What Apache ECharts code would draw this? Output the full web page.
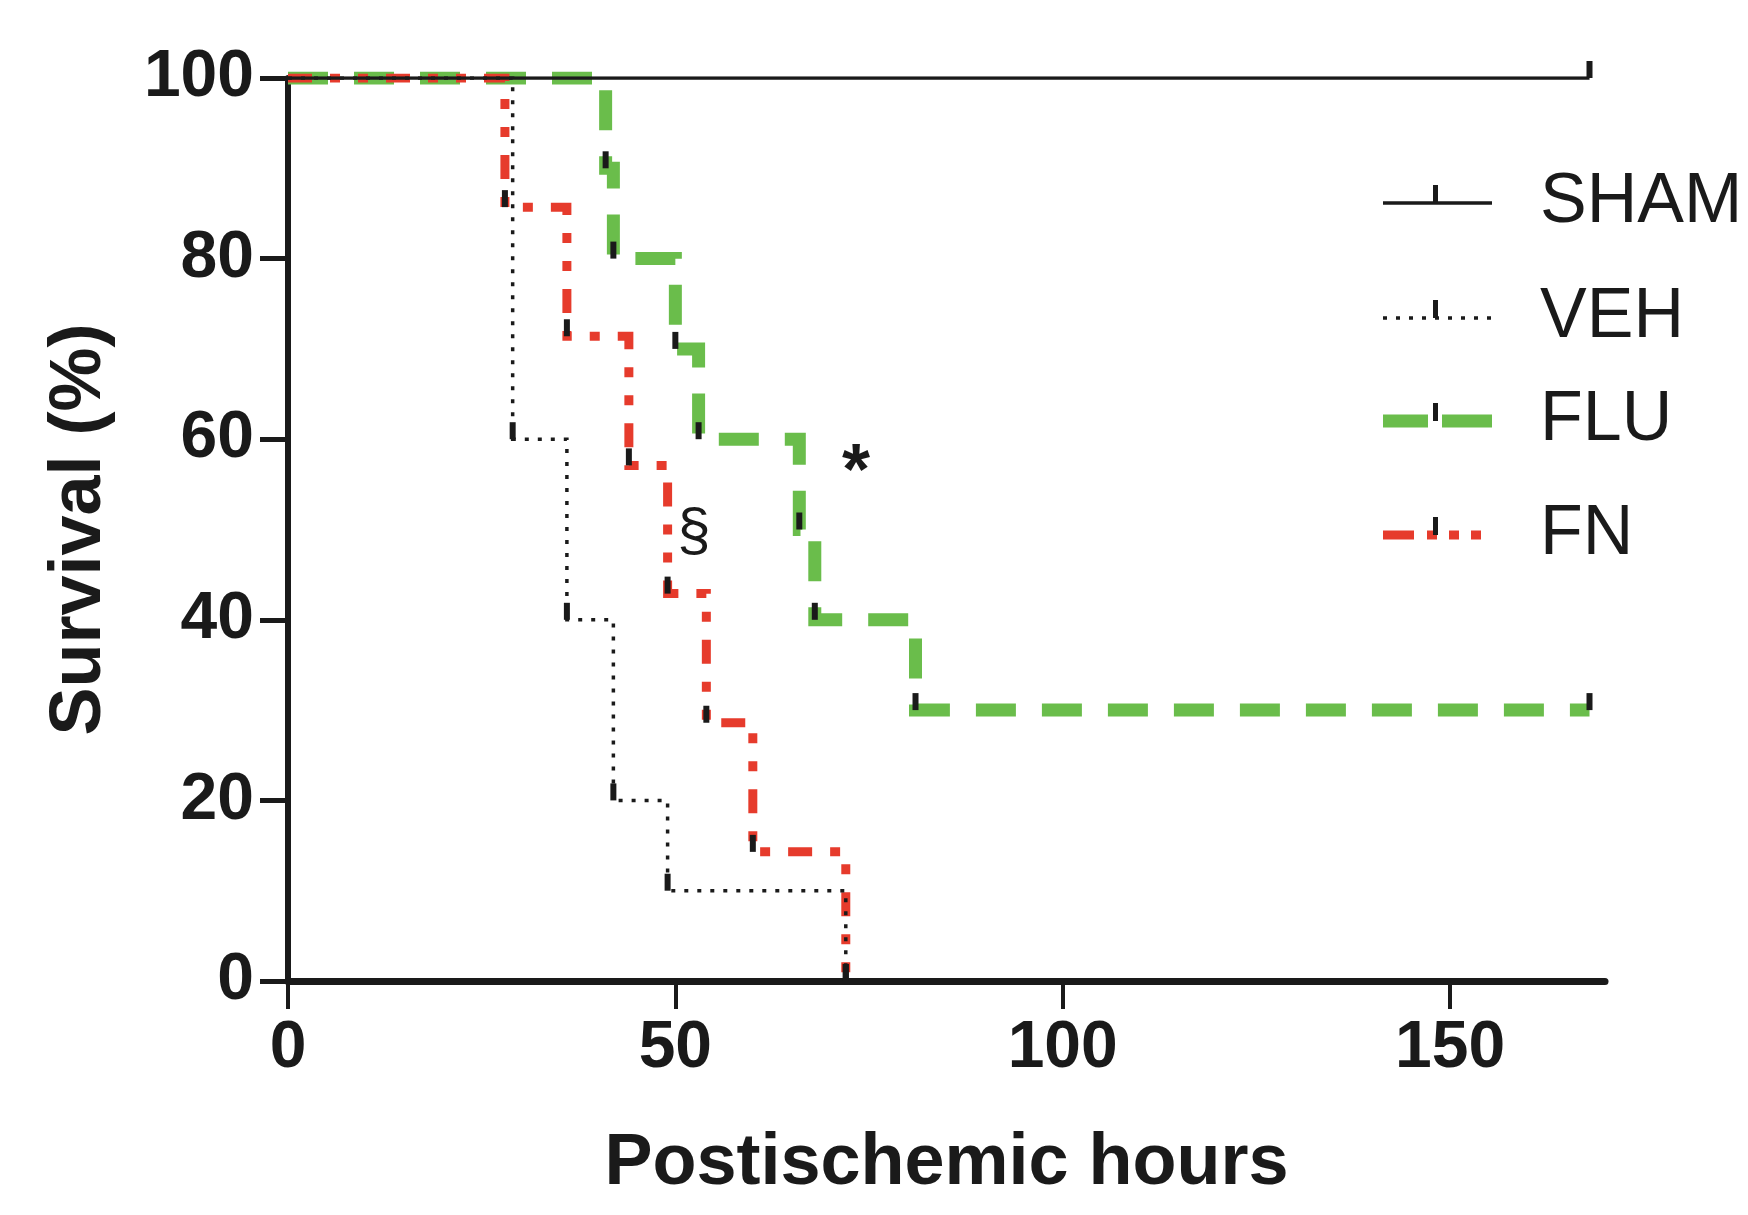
<!DOCTYPE html>
<html>
<head>
<meta charset="utf-8">
<title>Survival</title>
<script src="https://cdn.jsdelivr.net/npm/echarts/dist/echarts.min.js"></script>
<style>
  html, body { margin: 0; padding: 0; background: #fff; }
  #chart { width: 1748px; height: 1215px; }
</style>
</head>
<body>
<div id="chart"></div>
<script>
  // survival data (hours, %)
  const shamHours = [0, 168];
  const shamSurvival = [100, 100];
  const vehHours = [0, 29, 36, 42, 49, 72];
  const vehSurvival = [100, 60, 40, 20, 10, 0];
  const fluHours = [0, 41, 42, 50, 53, 66, 68, 81, 168];
  const fluSurvival = [100, 90, 80, 70, 60, 50, 40, 30, 30];
  const fnHours = [0, 28, 36, 44, 49, 54, 60, 72];
  const fnSurvival = [100, 85.7, 71.4, 57.1, 42.9, 28.6, 14.3, 0];

  const xTicks = [0, 50, 100, 150];
  const yTicks = [0, 20, 40, 60, 80, 100];
  const seriesNames = ['SHAM', 'VEH', 'FLU', 'FN'];

  const INK = '#1a1a1a';
  const GREEN = '#6abd4b';
  const RED = '#e63b2c';
  const FONT = 'Liberation Sans';

  function pairs(xs, ys) {
    return xs.map(function (x, i) { return [x, ys[i]]; });
  }

  // black marks sit at every step point except the start
  function marks(xs, ys) {
    return pairs(xs, ys).slice(1);
  }

  const styles = {
    SHAM: { color: INK, width: 3.5, type: 'solid' },
    VEH: { color: INK, width: 3.5, type: [4, 9] },
    FLU: { color: GREEN, width: 13, type: [40, 26] },
    FN: { color: RED, width: 9, type: [24, 18, 10, 18, 10, 18] }
  };

  const curves = {
    SHAM: pairs(shamHours, shamSurvival),
    VEH: pairs(vehHours, vehSurvival),
    FLU: pairs(fluHours, fluSurvival),
    FN: pairs(fnHours, fnSurvival)
  };

  const ticks = []
    .concat(marks(shamHours, shamSurvival))
    .concat(marks(vehHours, vehSurvival))
    .concat(marks(fluHours, fluSurvival))
    .concat(marks(fnHours, fnSurvival));

  // bottom to top drawing order
  const order = ['FLU', 'FN', 'VEH', 'SHAM'];
  const lineSeries = order.map(function (name, i) {
    const s = styles[name];
    return {
      name: name,
      type: 'line',
      step: 'end',
      data: curves[name],
      symbol: 'none',
      z: 2 + i,
      lineStyle: { color: s.color, width: s.width, type: s.type, cap: 'butt', join: 'miter' }
    };
  });

  // legend drawn by hand (line + tick + label)
  const legendRows = { SHAM: 203, VEH: 318, FLU: 421, FN: 535 };
  const legendDash = { SHAM: null, VEH: [4, 9], FLU: [45, 14, 50], FN: [31, 13, 10, 12, 10, 12, 10, 100] };
  const legendGraphic = [];
  seriesNames.forEach(function (name) {
    const y = legendRows[name];
    const s = styles[name];
    legendGraphic.push({
      type: 'line',
      shape: { x1: 1383, y1: y, x2: 1492, y2: y },
      style: { stroke: s.color, lineWidth: s.width, lineDash: legendDash[name], lineCap: 'butt' }
    });
    legendGraphic.push({
      type: 'rect',
      shape: { x: 1433, y: y - 18, width: 5, height: 18 },
      style: { fill: INK }
    });
    legendGraphic.push({
      type: 'text',
      x: 1540,
      y: y,
      style: { text: name, fontSize: 70, fontFamily: FONT, fill: INK, verticalAlign: 'middle' }
    });
  });

  const chart = echarts.init(document.getElementById('chart'));
  chart.setOption({
    animation: false,
    backgroundColor: '#fff',
    grid: { left: 288, top: 78, width: 1317, height: 903 },
    xAxis: {
      type: 'value',
      min: 0,
      max: 170,
      interval: 50,
      name: 'Postischemic hours',
      nameLocation: 'middle',
      nameGap: 147,
      nameTextStyle: { fontSize: 72, fontWeight: 'bold', fontFamily: FONT, color: INK },
      axisLine: { lineStyle: { color: INK, width: 7 } },
      axisTick: { length: 28, customValues: xTicks, lineStyle: { color: INK, width: 4 } },
      axisLabel: { customValues: xTicks, margin: 35, fontSize: 66, fontWeight: 'bold', fontFamily: FONT, color: INK },
      splitLine: { show: false }
    },
    yAxis: {
      type: 'value',
      min: 0,
      max: 100,
      interval: 20,
      name: 'Survival (%)',
      nameLocation: 'middle',
      nameGap: 172,
      nameTextStyle: { fontSize: 72, fontWeight: 'bold', fontFamily: FONT, color: INK },
      axisLine: { show: true, lineStyle: { color: INK, width: 6 } },
      axisTick: { show: true, length: 28, customValues: yTicks, lineStyle: { color: INK, width: 5 } },
      axisLabel: { customValues: yTicks, margin: 34, fontSize: 66, fontWeight: 'bold', fontFamily: FONT, color: INK },
      splitLine: { show: false }
    },
    series: lineSeries.concat([{
      name: 'ticks',
      type: 'scatter',
      data: ticks,
      symbol: 'rect',
      symbolSize: [6, 17],
      symbolOffset: [0, '-50%'],
      itemStyle: { color: INK, opacity: 1 },
      z: 10,
      silent: true
    }]),
    graphic: legendGraphic.concat([
      { type: 'text', x: 856, y: 474, style: { text: '*', fontSize: 72, fontWeight: 'bold', fontFamily: FONT, fill: INK, align: 'center', verticalAlign: 'middle' } },
      { type: 'text', x: 694, y: 533, style: { text: '§', fontSize: 60, fontFamily: FONT, fill: INK, align: 'center', verticalAlign: 'middle' } }
    ])
  });
</script>
</body>
</html>
